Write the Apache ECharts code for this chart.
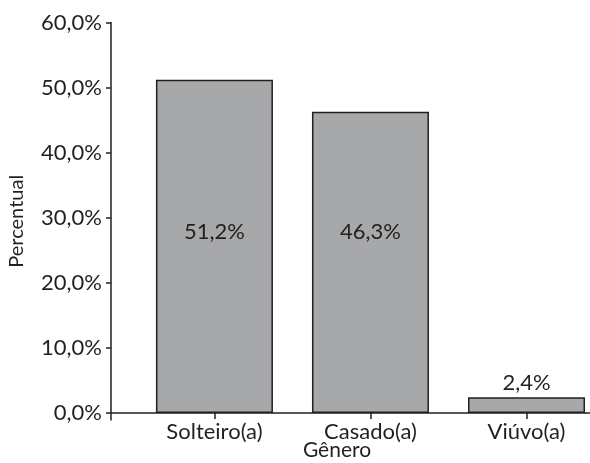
<!DOCTYPE html>
<html>
<head>
<meta charset="utf-8">
<script src="https://cdn.jsdelivr.net/npm/echarts@6/dist/echarts.min.js"></script>
<style>
  html, body { margin: 0; padding: 0; background: #fff; }
  #chart { width: 590px; height: 463px; }
</style>
</head>
<body>
<div id="chart"></div>
<script>
// Estado civil dos entrevistados (percentual)
const categories = ['Solteiro(a)', 'Casado(a)', 'Viúvo(a)'];
const values = [51.2, 46.3, 2.4];
const yTicks = [0, 10, 20, 30, 40, 50, 60];
const positions = [1, 2, 3];

const FONT = 'Lato, "Open Sans", sans-serif';
const W = 400;
const TXT = '#231f20';
const fmtPct = v => v.toFixed(1).replace('.', ',') + '%';

const chart = echarts.init(document.getElementById('chart'), null, { renderer: 'canvas' });

const barData = values.map((v, i) => {
  const small = v < 10;
  return {
    value: [positions[i], v],
    label: small
      ? { position: 'top', distance: 3 }
      : { position: 'insideBottom', distance: 170 }
  };
});

chart.setOption({
  animation: false,
  backgroundColor: '#ffffff',
  grid: { left: 111, right: 0, top: 22.6, bottom: 43, outerBoundsMode: 'none', containLabel: false },
  xAxis: {
    type: 'value',
    min: 0.337,
    max: 3.407,
    name: 'Gênero',
    nameLocation: 'middle',
    nameGap: 20,
    nameMoveOverlap: false,
    nameTextStyle: { fontFamily: FONT, fontWeight: W, fontSize: 21, color: TXT, padding: [0, 27, 0, 0] },
    axisLine: { show: true, onZero: true, lineStyle: { color: TXT, width: 1.5 } },
    axisTick: { show: true, inside: false, length: 6, customValues: positions, lineStyle: { color: TXT, width: 1.5 } },
    axisLabel: {
      customValues: positions,
      margin: 1,
      fontFamily: FONT, fontWeight: W, fontSize: 22, color: TXT,
      formatter: v => categories[positions.indexOf(Math.round(v))] || ''
    },
    splitLine: { show: false }
  },
  yAxis: {
    type: 'value',
    min: -1.08,
    max: 60,
    name: 'Percentual',
    nameLocation: 'middle',
    nameGap: 84,
    nameMoveOverlap: false,
    nameTextStyle: { fontFamily: FONT, fontWeight: W, fontSize: 20, color: TXT },
    axisLine: { show: true, lineStyle: { color: TXT, width: 1.5 } },
    axisTick: { show: true, length: 5, customValues: yTicks, lineStyle: { color: TXT, width: 1.5 } },
    axisLabel: {
      customValues: yTicks,
      margin: 9,
      fontFamily: FONT, fontWeight: W, fontSize: 22, color: TXT,
      formatter: v => fmtPct(v)
    },
    splitLine: { show: false }
  },
  series: [{
    type: 'bar',
    data: barData,
    barWidth: 117,
    itemStyle: { color: '#a7a8aa', borderColor: TXT, borderWidth: 1.5 },
    label: {
      show: true,
      fontFamily: FONT, fontWeight: W, fontSize: 22, color: TXT,
      formatter: p => fmtPct(p.value[1])
    }
  }]
});
</script>
</body>
</html>
